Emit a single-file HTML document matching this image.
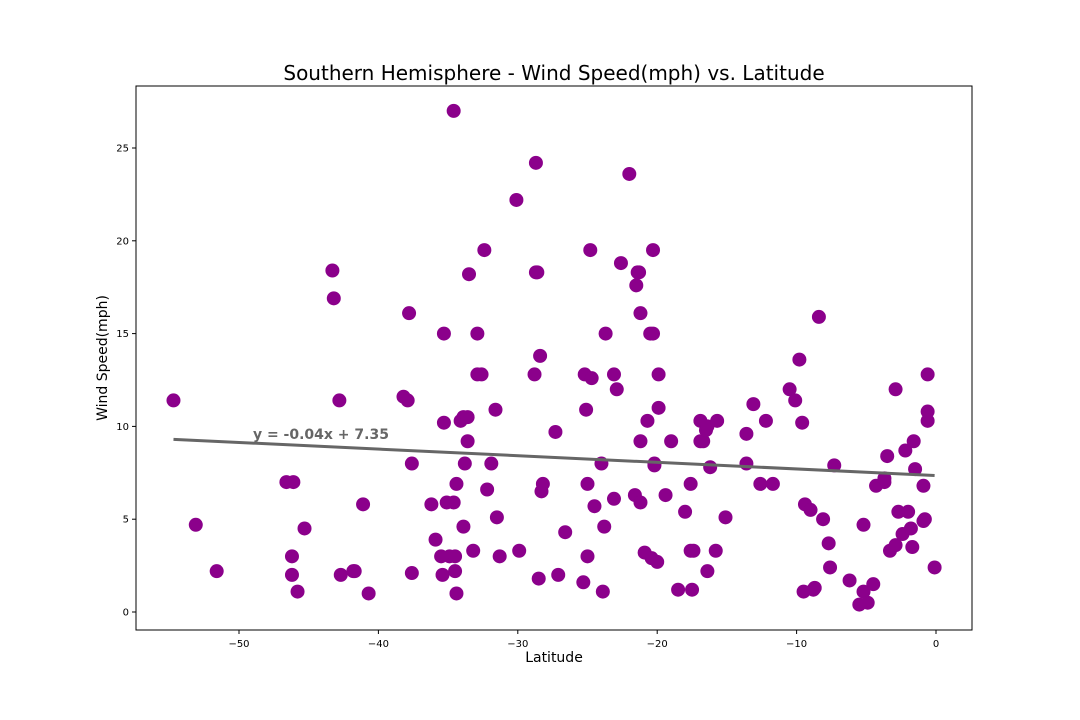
<!DOCTYPE html>
<html><head><meta charset="utf-8">
<style>body{margin:0;background:#fff}svg{display:block;font-family:"DejaVu Sans","Liberation Sans",sans-serif}</style>
</head><body>
<svg id="chart" width="1080" height="720" xmlns="http://www.w3.org/2000/svg">
<text x="554" y="80" text-anchor="middle" font-size="20" fill="#000">Southern Hemisphere - Wind Speed(mph) vs. Latitude</text>
<rect x="136" y="86" width="836" height="544" fill="none" stroke="#000" stroke-width="1"/>
<g id="xt"></g>
<g id="yt"></g>
<g id="pts"></g>
<g id="reg"></g>
<text x="554" y="662" text-anchor="middle" font-size="14">Latitude</text>
<text x="107" y="358" text-anchor="middle" font-size="14" transform="rotate(-90 107 358)">Wind Speed(mph)</text>
</svg>
<script>
const lat=[-54.7,-53.1,-51.6,-46.6,-46.1,-46.2,-46.2,-45.8,-45.3,-43.3,-43.2,-42.8,-42.7,-41.8,-41.7,-41.1,-40.7,-38.2,-37.9,-37.8,-37.6,-37.6,-36.2,-35.9,-35.5,-35.4,-35.3,-35.3,-35.1,-34.9,-34.6,-34.6,-34.5,-34.5,-34.4,-34.4,-34.1,-33.9,-33.9,-33.8,-33.6,-33.5,-33.6,-33.2,-32.9,-32.9,-32.6,-32.4,-32.2,-31.9,-31.6,-31.5,-31.3,-29.9,-30.1,-28.8,-28.7,-28.6,-28.7,-28.5,-28.4,-28.3,-28.2,-27.3,-27.1,-26.6,-25.3,-25.2,-25.1,-25.0,-25.0,-24.8,-24.7,-24.5,-24.0,-23.9,-23.8,-23.7,-23.1,-23.1,-22.9,-22.6,-22.0,-21.6,-21.5,-21.4,-21.3,-21.2,-21.2,-21.2,-20.9,-20.7,-20.5,-20.4,-20.3,-20.3,-20.2,-20.2,-20.0,-19.9,-19.9,-19.4,-19.0,-18.5,-18.0,-17.6,-17.6,-17.4,-17.5,-16.9,-16.9,-16.7,-16.5,-16.4,-16.4,-16.2,-15.8,-15.7,-15.1,-13.6,-13.6,-13.1,-12.6,-12.2,-11.7,-10.5,-10.1,-9.8,-9.6,-9.5,-9.4,-9.0,-8.8,-8.7,-8.4,-8.1,-7.7,-7.6,-7.3,-6.2,-5.5,-5.2,-5.2,-4.9,-4.5,-4.3,-3.7,-3.7,-3.5,-3.3,-2.9,-2.9,-2.7,-2.4,-2.2,-2.0,-1.8,-1.7,-1.6,-1.5,-0.9,-0.9,-0.8,-0.6,-0.6,-0.6,-0.1];
const wind=[11.4,4.7,2.2,7.0,7.0,3.0,2.0,1.1,4.5,18.4,16.9,11.4,2.0,2.2,2.2,5.8,1.0,11.6,11.4,16.1,8.0,2.1,5.8,3.9,3.0,2.0,15.0,10.2,5.9,3.0,27.0,5.9,3.0,2.2,6.9,1.0,10.3,10.5,4.6,8.0,10.5,18.2,9.2,3.3,15.0,12.8,12.8,19.5,6.6,8.0,10.9,5.1,3.0,3.3,22.2,12.8,18.3,18.3,24.2,1.8,13.8,6.5,6.9,9.7,2.0,4.3,1.6,12.8,10.9,3.0,6.9,19.5,12.6,5.7,8.0,1.1,4.6,15.0,12.8,6.1,12.0,18.8,23.6,6.3,17.6,18.3,18.3,16.1,9.2,5.9,3.2,10.3,15.0,2.9,15.0,19.5,8.0,7.9,2.7,12.8,11.0,6.3,9.2,1.2,5.4,6.9,3.3,3.3,1.2,10.3,9.2,9.2,9.8,2.2,10.0,7.8,3.3,10.3,5.1,9.6,8.0,11.2,6.9,10.3,6.9,12.0,11.4,13.6,10.2,1.1,5.8,5.5,1.2,1.3,15.9,5.0,3.7,2.4,7.9,1.7,0.4,4.7,1.1,0.5,1.5,6.8,7.0,7.2,8.4,3.3,12.0,3.6,5.4,4.2,8.7,5.4,4.5,3.5,9.2,7.7,4.9,6.8,5.0,12.8,10.3,10.8,2.4];
const xTicks=[-50,-40,-30,-20,-10,0];
const yTicks=[0,5,10,15,20,25];
const regSlope=[-0.0357];
const regIntercept=[7.35];
const regLabel=["y = -0.04x + 7.35"];
const NS="http://www.w3.org/2000/svg";
const X=v=>936+v*13.94, Y=v=>612-v*18.56;
function mk(t,a,p){const e=document.createElementNS(NS,t);for(const k in a)e.setAttribute(k,a[k]);p.appendChild(e);return e;}
const xt=document.getElementById('xt'),yt=document.getElementById('yt'),pts=document.getElementById('pts'),reg=document.getElementById('reg');
xTicks.forEach(v=>{const l=mk('line',{x1:X(v),x2:X(v),y1:630,y2:634,stroke:'#000'},xt);


const t=mk('text',{x:X(v),y:647,'text-anchor':'middle','font-size':10},xt);t.textContent=v<0?'\u2212'+(-v):v;

});
yTicks.forEach(v=>{const l=mk('line',{x1:132,x2:136,y1:Y(v),y2:Y(v),stroke:'#000'},yt);


const t=mk('text',{x:129,y:Y(v)+3.5,'text-anchor':'end','font-size':10},yt);t.textContent=v;

});
lat.forEach((v,i)=>{const c=mk('circle',{cx:X(v),cy:Y(wind[i]),r:7,fill:'#8b008b'},pts);

});
const xmin=Math.min(...lat),xmax=Math.max(...lat);
const rl=mk('line',{x1:X(xmin),y1:Y(regSlope[0]*xmin+regIntercept[0]),x2:X(xmax),y2:Y(regSlope[0]*xmax+regIntercept[0]),stroke:'#666',"stroke-width":3},reg);


const rt=mk('text',{x:X(-49),y:Y(9.6)+5,'font-size':14,'font-weight':'bold',fill:'#666'},reg);rt.textContent=regLabel[0];


</script>
</body></html>
